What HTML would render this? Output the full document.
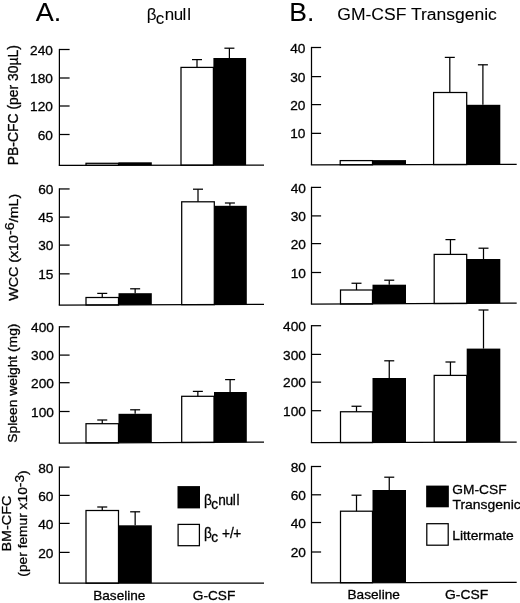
<!DOCTYPE html>
<html><head><meta charset="utf-8"><title>Figure</title>
<style>
html,body{margin:0;padding:0;background:#fff;}
body{width:520px;height:603px;overflow:hidden;}
svg{display:block;will-change:transform;}
svg text{font-family:"Liberation Sans",sans-serif;fill:#000;stroke:#000;stroke-width:0.3px;}
svg text.t{stroke-width:0.08px;}
svg line{stroke:#000;stroke-width:1.25;}
svg rect.w{fill:#fff;stroke:#000;stroke-width:1.25;}
svg rect.k{fill:#000;stroke:none;}
</style></head><body>
<svg width="520" height="603" viewBox="0 0 520 603">
<rect x="0" y="0" width="520" height="603" fill="#fff"/>
<rect x="86.00" y="163.30" width="32.50" height="2.04" class="w"/>
<rect x="118.50" y="162.30" width="33.30" height="2.99" class="k"/>
<rect x="181.00" y="67.40" width="32.40" height="97.80" class="w"/>
<line x1="197.00" y1="59.60" x2="197.00" y2="67.40"/>
<line x1="192.00" y1="59.60" x2="202.00" y2="59.60"/>
<rect x="213.40" y="58.00" width="32.70" height="107.15" class="k"/>
<line x1="229.40" y1="48.20" x2="229.40" y2="58.00"/>
<line x1="224.40" y1="48.20" x2="234.40" y2="48.20"/>
<line x1="59.40" y1="48.88" x2="59.40" y2="165.40"/>
<line x1="58.77" y1="165.40" x2="264.00" y2="165.10"/>
<line x1="59.40" y1="49.50" x2="69.60" y2="49.50"/>
<text transform="translate(52.9 54.6)" font-size="13.7" text-anchor="end">240</text>
<line x1="59.40" y1="78.00" x2="69.60" y2="78.00"/>
<text transform="translate(52.9 83.1)" font-size="13.7" text-anchor="end">180</text>
<line x1="59.40" y1="106.00" x2="69.60" y2="106.00"/>
<text transform="translate(52.9 111.1)" font-size="13.7" text-anchor="end">120</text>
<line x1="59.40" y1="134.50" x2="69.60" y2="134.50"/>
<text transform="translate(52.9 139.6)" font-size="13.7" text-anchor="end">60</text>
<rect x="86.00" y="297.50" width="32.50" height="7.53" class="w"/>
<line x1="102.25" y1="293.40" x2="102.25" y2="297.50"/>
<line x1="97.25" y1="293.40" x2="107.25" y2="293.40"/>
<rect x="118.50" y="293.20" width="33.30" height="11.70" class="k"/>
<line x1="135.15" y1="288.80" x2="135.15" y2="293.20"/>
<line x1="130.15" y1="288.80" x2="140.15" y2="288.80"/>
<rect x="181.70" y="201.80" width="32.60" height="102.86" class="w"/>
<line x1="198.00" y1="189.20" x2="198.00" y2="201.80"/>
<line x1="193.00" y1="189.20" x2="203.00" y2="189.20"/>
<rect x="214.30" y="205.80" width="32.50" height="98.73" class="k"/>
<line x1="229.90" y1="203.00" x2="229.90" y2="205.80"/>
<line x1="224.90" y1="203.00" x2="234.90" y2="203.00"/>
<line x1="59.40" y1="188.32" x2="59.40" y2="305.20"/>
<line x1="58.77" y1="305.20" x2="264.00" y2="304.40"/>
<line x1="59.40" y1="188.95" x2="69.60" y2="188.95"/>
<text transform="translate(53.4 194.04999999999998)" font-size="13.7" text-anchor="end">60</text>
<line x1="59.40" y1="217.10" x2="69.60" y2="217.10"/>
<text transform="translate(53.4 222.2)" font-size="13.7" text-anchor="end">45</text>
<line x1="59.40" y1="245.10" x2="69.60" y2="245.10"/>
<text transform="translate(53.4 250.2)" font-size="13.7" text-anchor="end">30</text>
<line x1="59.40" y1="273.85" x2="69.60" y2="273.85"/>
<text transform="translate(53.4 278.95000000000005)" font-size="13.7" text-anchor="end">15</text>
<rect x="86.00" y="423.70" width="32.50" height="19.13" class="w"/>
<line x1="102.25" y1="420.00" x2="102.25" y2="423.70"/>
<line x1="97.25" y1="420.00" x2="107.25" y2="420.00"/>
<rect x="118.50" y="413.80" width="33.30" height="28.90" class="k"/>
<line x1="135.15" y1="409.80" x2="135.15" y2="413.80"/>
<line x1="130.15" y1="409.80" x2="140.15" y2="409.80"/>
<rect x="181.70" y="396.30" width="32.30" height="46.16" class="w"/>
<line x1="197.85" y1="391.40" x2="197.85" y2="396.30"/>
<line x1="192.85" y1="391.40" x2="202.85" y2="391.40"/>
<rect x="214.00" y="392.00" width="32.80" height="50.33" class="k"/>
<line x1="230.10" y1="379.60" x2="230.10" y2="392.00"/>
<line x1="225.10" y1="379.60" x2="235.10" y2="379.60"/>
<line x1="59.40" y1="326.18" x2="59.40" y2="443.00"/>
<line x1="58.77" y1="443.00" x2="264.00" y2="442.20"/>
<line x1="59.40" y1="326.80" x2="69.60" y2="326.80"/>
<text transform="translate(53.9 331.90000000000003)" font-size="13.7" text-anchor="end">400</text>
<line x1="59.40" y1="355.10" x2="69.60" y2="355.10"/>
<text transform="translate(53.9 360.20000000000005)" font-size="13.7" text-anchor="end">300</text>
<line x1="59.40" y1="382.70" x2="69.60" y2="382.70"/>
<text transform="translate(53.9 387.8)" font-size="13.7" text-anchor="end">200</text>
<line x1="59.40" y1="411.50" x2="69.60" y2="411.50"/>
<text transform="translate(53.9 416.6)" font-size="13.7" text-anchor="end">100</text>
<rect x="86.00" y="510.50" width="32.50" height="72.68" class="w"/>
<line x1="102.25" y1="507.00" x2="102.25" y2="510.50"/>
<line x1="97.25" y1="507.00" x2="107.25" y2="507.00"/>
<rect x="118.50" y="525.30" width="33.30" height="57.86" class="k"/>
<line x1="135.15" y1="511.80" x2="135.15" y2="525.30"/>
<line x1="130.15" y1="511.80" x2="140.15" y2="511.80"/>
<line x1="59.40" y1="466.52" x2="59.40" y2="583.20"/>
<line x1="58.77" y1="583.20" x2="264.00" y2="583.10"/>
<line x1="59.40" y1="467.15" x2="69.60" y2="467.15"/>
<text transform="translate(53.4 472.75)" font-size="13.7" text-anchor="end">80</text>
<line x1="59.40" y1="495.40" x2="69.60" y2="495.40"/>
<text transform="translate(53.4 501.0)" font-size="13.7" text-anchor="end">60</text>
<line x1="59.40" y1="523.40" x2="69.60" y2="523.40"/>
<text transform="translate(53.4 529.0)" font-size="13.7" text-anchor="end">40</text>
<line x1="59.40" y1="552.40" x2="69.60" y2="552.40"/>
<text transform="translate(53.4 558.0)" font-size="13.7" text-anchor="end">20</text>
<rect x="340.20" y="160.60" width="32.30" height="4.19" class="w"/>
<rect x="372.50" y="160.10" width="33.50" height="4.61" class="k"/>
<rect x="433.60" y="92.50" width="33.10" height="72.06" class="w"/>
<line x1="449.80" y1="57.40" x2="449.80" y2="92.50"/>
<line x1="444.80" y1="57.40" x2="454.80" y2="57.40"/>
<rect x="466.70" y="104.80" width="33.60" height="59.68" class="k"/>
<line x1="482.90" y1="64.80" x2="482.90" y2="104.80"/>
<line x1="477.90" y1="64.80" x2="487.90" y2="64.80"/>
<line x1="311.50" y1="46.88" x2="311.50" y2="164.90"/>
<line x1="310.88" y1="164.90" x2="516.70" y2="164.40"/>
<line x1="311.50" y1="47.50" x2="321.10" y2="47.50"/>
<text transform="translate(305.4 52.6)" font-size="13.7" text-anchor="end">40</text>
<line x1="311.50" y1="76.60" x2="321.10" y2="76.60"/>
<text transform="translate(305.4 81.69999999999999)" font-size="13.7" text-anchor="end">30</text>
<line x1="311.50" y1="104.60" x2="321.10" y2="104.60"/>
<text transform="translate(305.4 109.69999999999999)" font-size="13.7" text-anchor="end">20</text>
<line x1="311.50" y1="133.35" x2="321.10" y2="133.35"/>
<text transform="translate(305.4 138.45)" font-size="13.7" text-anchor="end">10</text>
<rect x="340.50" y="290.00" width="32.00" height="13.98" class="w"/>
<line x1="356.50" y1="283.25" x2="356.50" y2="290.00"/>
<line x1="351.50" y1="283.25" x2="361.50" y2="283.25"/>
<rect x="372.50" y="284.70" width="33.50" height="19.12" class="k"/>
<line x1="389.25" y1="280.20" x2="389.25" y2="284.70"/>
<line x1="384.25" y1="280.20" x2="394.25" y2="280.20"/>
<rect x="434.20" y="254.40" width="32.50" height="49.12" class="w"/>
<line x1="450.45" y1="239.60" x2="450.45" y2="254.40"/>
<line x1="445.45" y1="239.60" x2="455.45" y2="239.60"/>
<rect x="466.70" y="259.00" width="33.60" height="44.36" class="k"/>
<line x1="483.50" y1="248.20" x2="483.50" y2="259.00"/>
<line x1="478.50" y1="248.20" x2="488.50" y2="248.20"/>
<line x1="311.50" y1="186.78" x2="311.50" y2="304.20"/>
<line x1="310.88" y1="304.20" x2="516.70" y2="303.20"/>
<line x1="311.50" y1="187.40" x2="321.10" y2="187.40"/>
<text transform="translate(305.9 192.5)" font-size="13.7" text-anchor="end">40</text>
<line x1="311.50" y1="215.90" x2="321.10" y2="215.90"/>
<text transform="translate(305.9 221.0)" font-size="13.7" text-anchor="end">30</text>
<line x1="311.50" y1="243.60" x2="321.10" y2="243.60"/>
<text transform="translate(305.9 248.7)" font-size="13.7" text-anchor="end">20</text>
<line x1="311.50" y1="272.50" x2="321.10" y2="272.50"/>
<text transform="translate(305.9 277.6)" font-size="13.7" text-anchor="end">10</text>
<rect x="340.50" y="411.75" width="32.00" height="30.80" class="w"/>
<line x1="356.50" y1="406.25" x2="356.50" y2="411.75"/>
<line x1="351.50" y1="406.25" x2="361.50" y2="406.25"/>
<rect x="372.50" y="378.00" width="33.50" height="64.43" class="k"/>
<line x1="389.25" y1="360.80" x2="389.25" y2="378.00"/>
<line x1="384.25" y1="360.80" x2="394.25" y2="360.80"/>
<rect x="434.20" y="375.40" width="32.50" height="66.83" class="w"/>
<line x1="450.45" y1="362.00" x2="450.45" y2="375.40"/>
<line x1="445.45" y1="362.00" x2="455.45" y2="362.00"/>
<rect x="466.70" y="348.60" width="33.60" height="93.51" class="k"/>
<line x1="483.50" y1="310.00" x2="483.50" y2="348.60"/>
<line x1="478.50" y1="310.00" x2="488.50" y2="310.00"/>
<line x1="311.50" y1="325.07" x2="311.50" y2="442.70"/>
<line x1="310.88" y1="442.70" x2="516.70" y2="442.00"/>
<line x1="311.50" y1="325.70" x2="321.10" y2="325.70"/>
<text transform="translate(305.9 330.8)" font-size="13.7" text-anchor="end">400</text>
<line x1="311.50" y1="354.40" x2="321.10" y2="354.40"/>
<text transform="translate(305.9 359.5)" font-size="13.7" text-anchor="end">300</text>
<line x1="311.50" y1="382.15" x2="321.10" y2="382.15"/>
<text transform="translate(305.9 387.25)" font-size="13.7" text-anchor="end">200</text>
<line x1="311.50" y1="410.70" x2="321.10" y2="410.70"/>
<text transform="translate(305.9 415.8)" font-size="13.7" text-anchor="end">100</text>
<rect x="340.50" y="511.20" width="32.00" height="71.49" class="w"/>
<line x1="356.50" y1="495.20" x2="356.50" y2="511.20"/>
<line x1="351.50" y1="495.20" x2="361.50" y2="495.20"/>
<rect x="372.50" y="490.00" width="33.50" height="92.61" class="k"/>
<line x1="389.25" y1="477.20" x2="389.25" y2="490.00"/>
<line x1="384.25" y1="477.20" x2="394.25" y2="477.20"/>
<line x1="311.50" y1="465.88" x2="311.50" y2="582.80"/>
<line x1="310.88" y1="582.80" x2="516.70" y2="582.30"/>
<line x1="311.50" y1="466.50" x2="321.10" y2="466.50"/>
<text transform="translate(305.9 471.6)" font-size="13.7" text-anchor="end">80</text>
<line x1="311.50" y1="494.80" x2="321.10" y2="494.80"/>
<text transform="translate(305.9 499.90000000000003)" font-size="13.7" text-anchor="end">60</text>
<line x1="311.50" y1="522.50" x2="321.10" y2="522.50"/>
<text transform="translate(305.9 527.6)" font-size="13.7" text-anchor="end">40</text>
<line x1="311.50" y1="552.00" x2="321.10" y2="552.00"/>
<text transform="translate(305.9 557.1)" font-size="13.7" text-anchor="end">20</text>
<text class="t" transform="translate(35.8 21.2) scale(1.08 1)" font-size="25" text-anchor="start">A.</text>
<text class="t" transform="translate(289.3 20.5) scale(1.06 1)" font-size="25" text-anchor="start">B.</text>
<text class="t" transform="translate(146.8 20) scale(1.04 1)" font-size="16.3" dx="0 -0.66 0.36 -0.48 -0.48 0.96" dy="0 3.8 -3.8">βcnull</text>
<text class="t" transform="translate(337.3 19.5) scale(1.095 1)" font-size="16" text-anchor="start">GM-CSF Transgenic</text>
<text transform="translate(17.5 105.2) rotate(-90)" font-size="13.9" text-anchor="middle">PB-CFC (per 30µL)</text>
<text transform="translate(17.5 247.3) rotate(-90) scale(1.042 1)" font-size="13.7" text-anchor="middle">WCC (x10<tspan dy="-3.6">-6</tspan><tspan dy="3.6">/mL)</tspan></text>
<text transform="translate(17.3 383.1) rotate(-90) scale(1.01 1)" font-size="13.7" text-anchor="middle">Spleen weight (mg)</text>
<text transform="translate(11.2 523.6) rotate(-90) scale(1.05 1)" font-size="13.7" text-anchor="middle">BM-CFC</text>
<text transform="translate(27.2 523.5) rotate(-90) scale(1.005 1)" font-size="13.7" text-anchor="middle">(per femur x10<tspan dy="-3.5">-3</tspan><tspan dy="3.5">)</tspan></text>
<text transform="translate(93.2 599.8) scale(1.015 1)" font-size="13.4" text-anchor="start">Baseline</text>
<text transform="translate(192.8 599.8) scale(1.02 1)" font-size="13.4" text-anchor="start">G-CSF</text>
<text transform="translate(347.5 599.3) scale(1.02 1)" font-size="13.4" text-anchor="start">Baseline</text>
<text transform="translate(445.0 599.3) scale(1.035 1)" font-size="13.4" text-anchor="start">G-CSF</text>
<rect x="177.50" y="486.10" width="22.50" height="22.30" class="k"/>
<rect x="178.10" y="524.40" width="21.30" height="21.30" class="w"/>
<text transform="translate(203.9 504.8) scale(0.955 1)" font-size="14.3" dx="0 -0.58 0.32 -0.42 -0.42 0.84" dy="0 3.7 -3.7">βcnull</text>
<text transform="translate(203.9 538) scale(0.955 1)" font-size="14.3" dx="0 -0.58 0.3 0 0 -0.6" dy="0 3.7 -3.7">βc&#160;+/+</text>
<rect x="426.15" y="485.60" width="22.70" height="21.70" class="k"/>
<rect x="426.80" y="523.70" width="21.40" height="21.50" class="w"/>
<text transform="translate(452.3 493.8) scale(1.005 1)" font-size="13.7" text-anchor="start">GM-CSF</text>
<text transform="translate(452.5 508.6) scale(1.015 1)" font-size="13.7" text-anchor="start">Transgenic</text>
<text transform="translate(452.2 540) scale(1.012 1)" font-size="13.7" text-anchor="start">Littermate</text>
</svg>
</body></html>
